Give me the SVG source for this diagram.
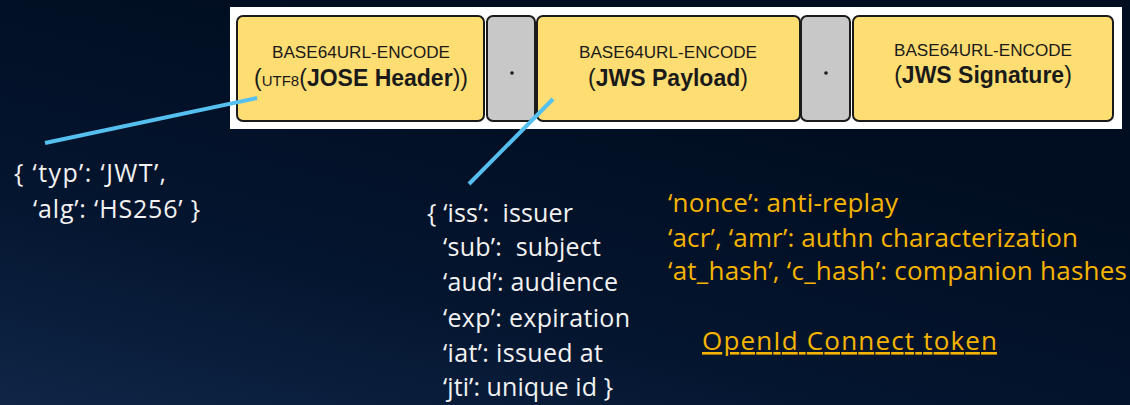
<svg xmlns="http://www.w3.org/2000/svg" width="1130" height="405" viewBox="0 0 1130 405">
  <defs>
    <linearGradient id="bg" x1="0" y1="1" x2="0.55" y2="0.2">
      <stop offset="0" stop-color="#0f2647"/>
      <stop offset="0.45" stop-color="#04152f"/>
      <stop offset="1" stop-color="#010e21"/>
    </linearGradient>
    <style>
      .part { fill: #fedd72; stroke: #1a1a1a; stroke-width: 2; }
      .sep { fill: #c8c8c8; stroke: #1a1a1a; stroke-width: 2; }
      .enc { font-family: "Liberation Sans", Arial, sans-serif; font-size: 16px; fill: #1a1a1a; text-anchor: middle; }
      .arg { font-family: "Liberation Sans", Arial, sans-serif; font-size: 23px; fill: #1a1a1a; text-anchor: middle; }
      .arg .b { font-weight: bold; }
      .claims { font-family: "Open Sans", "Noto Sans", sans-serif; font-size: 25px; fill: #f2f2f2; white-space: pre; }
      .oidc { font-family: "Open Sans", "Noto Sans", sans-serif; font-size: 26px; fill: #f5b400; white-space: pre; }
      .link { stroke: #55bff0; stroke-width: 4; stroke-linecap: butt; }
    </style>
  </defs>

  <!-- backdrop -->
  <rect width="1130" height="405" fill="url(#bg)"/>

  <!-- white strip holding the serialized token -->
  <rect x="230" y="7" width="892" height="122" fill="#ffffff"/>

  <g id="jose-header">
    <rect class="part" x="237" y="16" width="247" height="105" rx="6"/>
    <text class="enc" x="361" y="58" textLength="178" lengthAdjust="spacingAndGlyphs">BASE64URL-ENCODE</text>
    <text class="arg" x="361" y="86">(<tspan font-size="15">UTF8</tspan>(<tspan class="b">JOSE Header</tspan>))</text>
  </g>

  <g id="dot-1">
    <rect class="sep" x="487" y="16" width="48" height="105" rx="6"/>
    <circle cx="512" cy="73" r="1.8" fill="#1a1a1a"/>
  </g>

  <g id="jws-payload">
    <rect class="part" x="537" y="16" width="263" height="105" rx="6"/>
    <text class="enc" x="668" y="58" textLength="178" lengthAdjust="spacingAndGlyphs">BASE64URL-ENCODE</text>
    <text class="arg" x="668" y="86">(<tspan class="b">JWS Payload</tspan>)</text>
  </g>

  <g id="dot-2">
    <rect class="sep" x="801" y="16" width="49" height="105" rx="6"/>
    <circle cx="826" cy="73" r="1.8" fill="#1a1a1a"/>
  </g>

  <g id="jws-signature">
    <rect class="part" x="853" y="16" width="260" height="105" rx="6"/>
    <text class="enc" x="983" y="56" textLength="178" lengthAdjust="spacingAndGlyphs">BASE64URL-ENCODE</text>
    <text class="arg" x="983" y="83">(<tspan class="b">JWS Signature</tspan>)</text>
  </g>

  <g id="connectors">
    <line class="link" x1="45" y1="143" x2="257" y2="98"/>
    <line class="link" x1="553" y1="99" x2="469" y2="184"/>
  </g>

  <g id="header-claims">
    <text class="claims" x="14" y="182" textLength="152">{ ‘typ’: ‘JWT’,</text>
    <text class="claims" x="33" y="218" textLength="167">‘alg’: ‘HS256’ }</text>
  </g>

  <g id="payload-claims">
    <text class="claims" x="427" y="222" textLength="146">{ ‘iss’:  issuer</text>
    <text class="claims" x="443" y="256" textLength="158">‘sub’:  subject</text>
    <text class="claims" x="443" y="291" textLength="175">‘aud’: audience</text>
    <text class="claims" x="443" y="327" textLength="187">‘exp’: expiration</text>
    <text class="claims" x="443" y="362" textLength="160">‘iat’: issued at</text>
    <text class="claims" x="443" y="396" textLength="170">‘jti’: unique id }</text>
  </g>

  <g id="oidc-claims">
    <text class="oidc" x="668" y="212" textLength="230">‘nonce’: anti-replay</text>
    <text class="oidc" x="668" y="247" textLength="410">‘acr’, ‘amr’: authn characterization</text>
    <text class="oidc" x="668" y="280" textLength="459">‘at_hash’, ‘c_hash’: companion hashes</text>
    <text class="oidc" x="702" y="350" textLength="295" text-decoration="underline">OpenId Connect token</text>
  </g>
</svg>
